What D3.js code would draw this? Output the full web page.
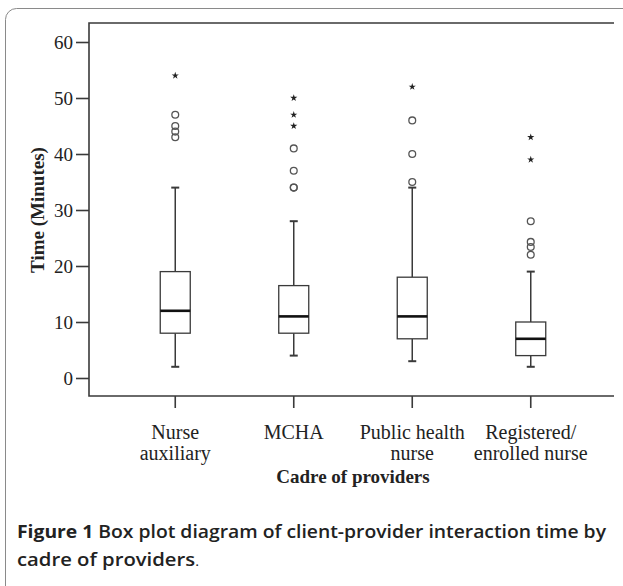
<!DOCTYPE html>
<html>
<head>
<meta charset="utf-8">
<script src="https://cdnjs.cloudflare.com/ajax/libs/d3/7.8.5/d3.min.js"></script>
<style>
  body { margin: 0; background: #fff; }
  svg { display: block; }
</style>
</head>
<body>
<div id="chart"></div>
<script>
// values
var categories = [["Nurse", "auxiliary"], ["MCHA"], ["Public health", "nurse"], ["Registered/", "enrolled nurse"]];
var whiskerLow = [2, 4, 3, 2];
var q1 = [8, 8, 7, 4];
var median = [12, 11, 11, 7];
var q3 = [19, 16.5, 18, 10];
var whiskerHigh = [34, 28, 34, 19];
var outliers = [[43, 44, 45, 47], [34, 34, 37, 41], [35, 40, 46], [22, 23.4, 24.3, 28]];
var extremes = [[54], [45, 47, 50], [52], [39, 43]];
var yTicks = [0, 10, 20, 30, 40, 50, 60];

var W = 623, H = 586;
var svg = d3.select("#chart").append("svg")
  .attr("width", W)
  .attr("height", H);

// outer rounded panel
svg.append("rect")
  .attr("x", 5.5).attr("y", 8.5)
  .attr("width", 640).attr("height", 600)
  .attr("rx", 11)
  .attr("fill", "#fff")
  .attr("stroke", "#8a8a8a")
  .attr("stroke-width", 1);

var plotLeft = 89, plotRight = 614, plotTop = 23, plotBottom = 396;

var y = d3.scaleLinear().domain([0, 60]).range([378, 42]);
var x = d3.scaleBand().domain(d3.range(categories.length)).range([116, 590]).paddingInner(0);
var cx = function(i) { return x(i) + x.bandwidth() / 2; };

var ink = "#3a3a3a";
var serif = "'Liberation Serif', 'Times New Roman', serif";

// frame: left, top, bottom
svg.append("path")
  .attr("d", "M" + plotRight + "," + plotTop + "H" + plotLeft + "V" + plotBottom + "H" + plotRight)
  .attr("fill", "none").attr("stroke", ink).attr("stroke-width", 1.6);

// y axis
var yAxis = d3.axisLeft(y).tickValues(yTicks).tickSize(13).tickPadding(3);
var gy = svg.append("g").attr("transform", "translate(" + plotLeft + ",0)").call(yAxis);
gy.select(".domain").remove();
gy.selectAll(".tick line").attr("stroke", ink).attr("stroke-width", 1.6);
gy.selectAll(".tick text")
  .attr("fill", "#222")
  .style("font-family", serif)
  .style("font-size", "19px");

// x axis
var xAxis = d3.axisBottom(x).tickSize(12).tickFormat("");
var gx = svg.append("g").attr("transform", "translate(0," + plotBottom + ")").call(xAxis);
gx.select(".domain").remove();
gx.selectAll(".tick line").attr("stroke", ink).attr("stroke-width", 1.6);

var xl = svg.append("g");
categories.forEach(function(lines, i) {
  lines.forEach(function(s, k) {
    xl.append("text")
      .attr("x", cx(i))
      .attr("y", 439 + k * 21)
      .attr("text-anchor", "middle")
      .attr("fill", "#222")
      .style("font-family", serif)
      .style("font-size", "20px")
      .text(s);
  });
});

// axis titles
svg.append("text")
  .attr("x", 353).attr("y", 483)
  .attr("text-anchor", "middle")
  .attr("fill", "#222")
  .style("font-family", serif)
  .style("font-size", "19px")
  .style("font-weight", "bold")
  .text("Cadre of providers");

svg.append("text")
  .attr("transform", "translate(44," + y(30) + ") rotate(-90)")
  .attr("text-anchor", "middle")
  .attr("fill", "#222")
  .style("font-family", serif)
  .style("font-size", "19px")
  .style("font-weight", "bold")
  .text("Time (Minutes)");

// boxes
var boxes = svg.selectAll("g.box")
  .data(d3.range(categories.length))
  .enter().append("g")
  .attr("class", "box");

var half = 15, cap = 4;

boxes.append("line")
  .attr("x1", cx).attr("x2", cx)
  .attr("y1", function(i) { return y(whiskerHigh[i]); })
  .attr("y2", function(i) { return y(q3[i]); })
  .attr("stroke", ink).attr("stroke-width", 1.5);
boxes.append("line")
  .attr("x1", cx).attr("x2", cx)
  .attr("y1", function(i) { return y(q1[i]); })
  .attr("y2", function(i) { return y(whiskerLow[i]); })
  .attr("stroke", ink).attr("stroke-width", 1.5);
boxes.append("line")
  .attr("x1", function(i) { return cx(i) - cap; })
  .attr("x2", function(i) { return cx(i) + cap; })
  .attr("y1", function(i) { return y(whiskerHigh[i]); })
  .attr("y2", function(i) { return y(whiskerHigh[i]); })
  .attr("stroke", ink).attr("stroke-width", 2);
boxes.append("line")
  .attr("x1", function(i) { return cx(i) - cap; })
  .attr("x2", function(i) { return cx(i) + cap; })
  .attr("y1", function(i) { return y(whiskerLow[i]); })
  .attr("y2", function(i) { return y(whiskerLow[i]); })
  .attr("stroke", ink).attr("stroke-width", 2);

boxes.append("rect")
  .attr("x", function(i) { return cx(i) - half; })
  .attr("y", function(i) { return y(q3[i]); })
  .attr("width", half * 2)
  .attr("height", function(i) { return y(q1[i]) - y(q3[i]); })
  .attr("fill", "#fff")
  .attr("stroke", ink).attr("stroke-width", 1.3);

boxes.append("line")
  .attr("x1", function(i) { return cx(i) - half; })
  .attr("x2", function(i) { return cx(i) + half; })
  .attr("y1", function(i) { return y(median[i]); })
  .attr("y2", function(i) { return y(median[i]); })
  .attr("stroke", "#111").attr("stroke-width", 2.6);

// outliers (circles) and extremes (stars)
boxes.each(function(i) {
  var g = d3.select(this);
  g.selectAll("circle")
    .data(outliers[i])
    .enter().append("circle")
    .attr("cx", cx(i))
    .attr("cy", function(d) { return y(d); })
    .attr("r", 3.4)
    .attr("fill", "none")
    .attr("stroke", "#555")
    .attr("stroke-width", 1.3);
  g.selectAll("path.star")
    .data(extremes[i])
    .enter().append("path")
    .attr("class", "star")
    .attr("transform", function(d) { return "translate(" + cx(i) + "," + y(d) + ")"; })
    .attr("d", d3.symbol().type(d3.symbolStar).size(16))
    .attr("fill", "#222");
});

// caption
var sans = "'Open Sans', 'Noto Sans', sans-serif";
var cap1 = svg.append("text")
  .attr("x", 17).attr("y", 538)
  .attr("fill", "#222")
  .style("font-family", sans)
  .style("font-size", "18px")
  .style("font-weight", 600)
  .attr("textLength", 589)
  .attr("lengthAdjust", "spacingAndGlyphs");
cap1.append("tspan").style("font-weight", 700).text("Figure 1");
cap1.append("tspan").text(" Box plot diagram of client-provider interaction time by");

var cap2 = svg.append("text")
  .attr("x", 17).attr("y", 566)
  .attr("fill", "#222")
  .style("font-family", sans)
  .style("font-size", "18px")
  .style("font-weight", 600)
  .attr("textLength", 182)
  .attr("lengthAdjust", "spacingAndGlyphs");
cap2.append("tspan").text("cadre of providers");
cap2.append("tspan").style("font-size", "13px").style("font-weight", 400).text(".");
</script>
</body>
</html>
